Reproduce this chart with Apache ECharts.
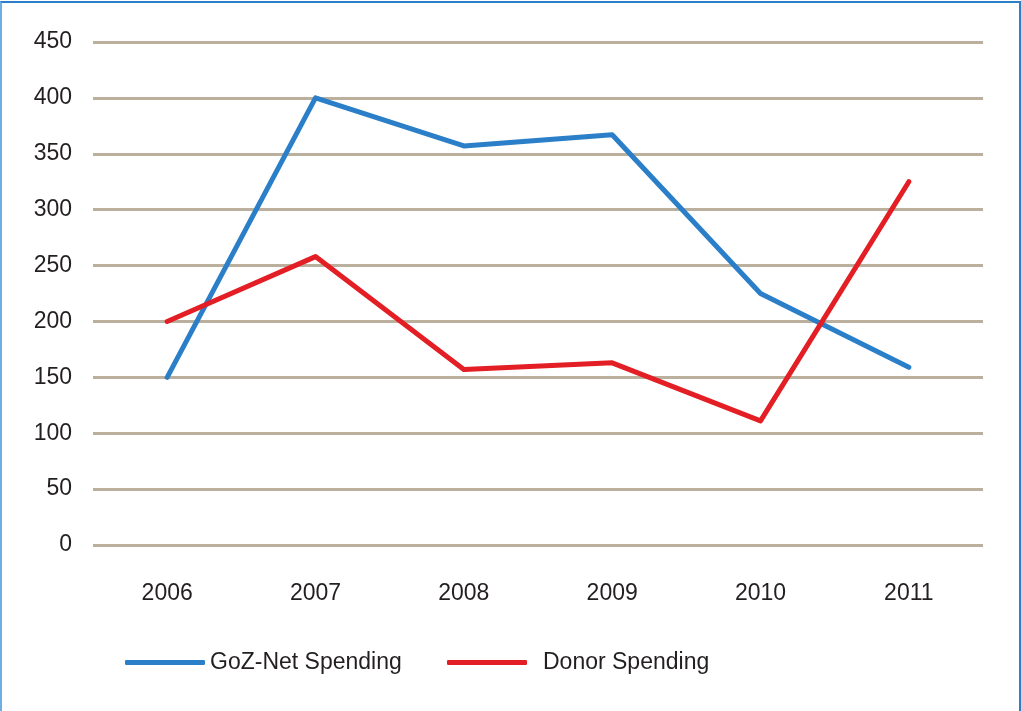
<!DOCTYPE html>
<html>
<head>
<meta charset="utf-8">
<script src="https://cdn.jsdelivr.net/npm/echarts@6/dist/echarts.min.js"></script>
<style>
  html, body { margin: 0; padding: 0; background: #fff; }
  #chart { position: absolute; left: 0; top: 0; width: 1021px; height: 711px; }
  #frame { position: absolute; left: 0; top: 1px; width: 1017px; height: 720px;
           border-left: 2px solid #6dafe2; border-top: 2px solid #2a7fc8; border-right: 2px solid #2a7fc8;
           pointer-events: none; }
</style>
</head>
<body>
<div id="chart"></div>
<div id="frame"></div>
<script>
const categories = ['2006', '2007', '2008', '2009', '2010', '2011'];
const gozNet = [150, 400, 357, 367, 225, 159];
const donor = [200, 258, 157, 163, 111, 325];
const seriesNames = ['GoZ-Net Spending', 'Donor Spending'];

const chart = echarts.init(document.getElementById('chart'), null, { renderer: 'canvas' });
const font = 'Liberation Sans, Arial, sans-serif';
chart.setOption({
  animation: false,
  backgroundColor: '#fff',
  grid: { left: 93, right: 38, top: 42, bottom: 166 },
  legend: [
    {
      data: [seriesNames[0]], left: 120, top: 646,
      itemWidth: 80, itemHeight: 5, itemGap: 0, icon: 'roundRect',
      textStyle: { fontFamily: font, fontSize: 23, color: '#231f20', padding: [0, 0, 0, 0] }
    },
    {
      data: [seriesNames[1]], left: 442, top: 646,
      itemWidth: 80, itemHeight: 5, itemGap: 0, icon: 'roundRect',
      textStyle: { fontFamily: font, fontSize: 23, color: '#231f20', padding: [0, 0, 0, 11] }
    }
  ],
  xAxis: {
    type: 'category', data: categories, boundaryGap: true,
    axisLine: { show: false }, axisTick: { show: false },
    axisLabel: { fontFamily: font, fontSize: 23, color: '#231f20', margin: 37 }
  },
  yAxis: {
    type: 'value', min: 0, max: 450, interval: 50,
    axisLine: { show: false }, axisTick: { show: false },
    axisLabel: { fontFamily: font, fontSize: 23, color: '#231f20', margin: 21, padding: [5, 0, 0, 0] },
    splitLine: { lineStyle: { color: '#bbb09e', width: 3 } }
  },
  series: [
    {
      name: seriesNames[0], type: 'line', data: gozNet, showSymbol: false, symbol: 'none',
      color: '#2a7fc8',
      lineStyle: { width: 5, color: '#2a7fc8', cap: 'round', join: 'round' }
    },
    {
      name: seriesNames[1], type: 'line', data: donor, showSymbol: false, symbol: 'none',
      color: '#e31e24',
      lineStyle: { width: 5, color: '#e31e24', cap: 'round', join: 'round' }
    }
  ]
});
</script>
</body>
</html>
